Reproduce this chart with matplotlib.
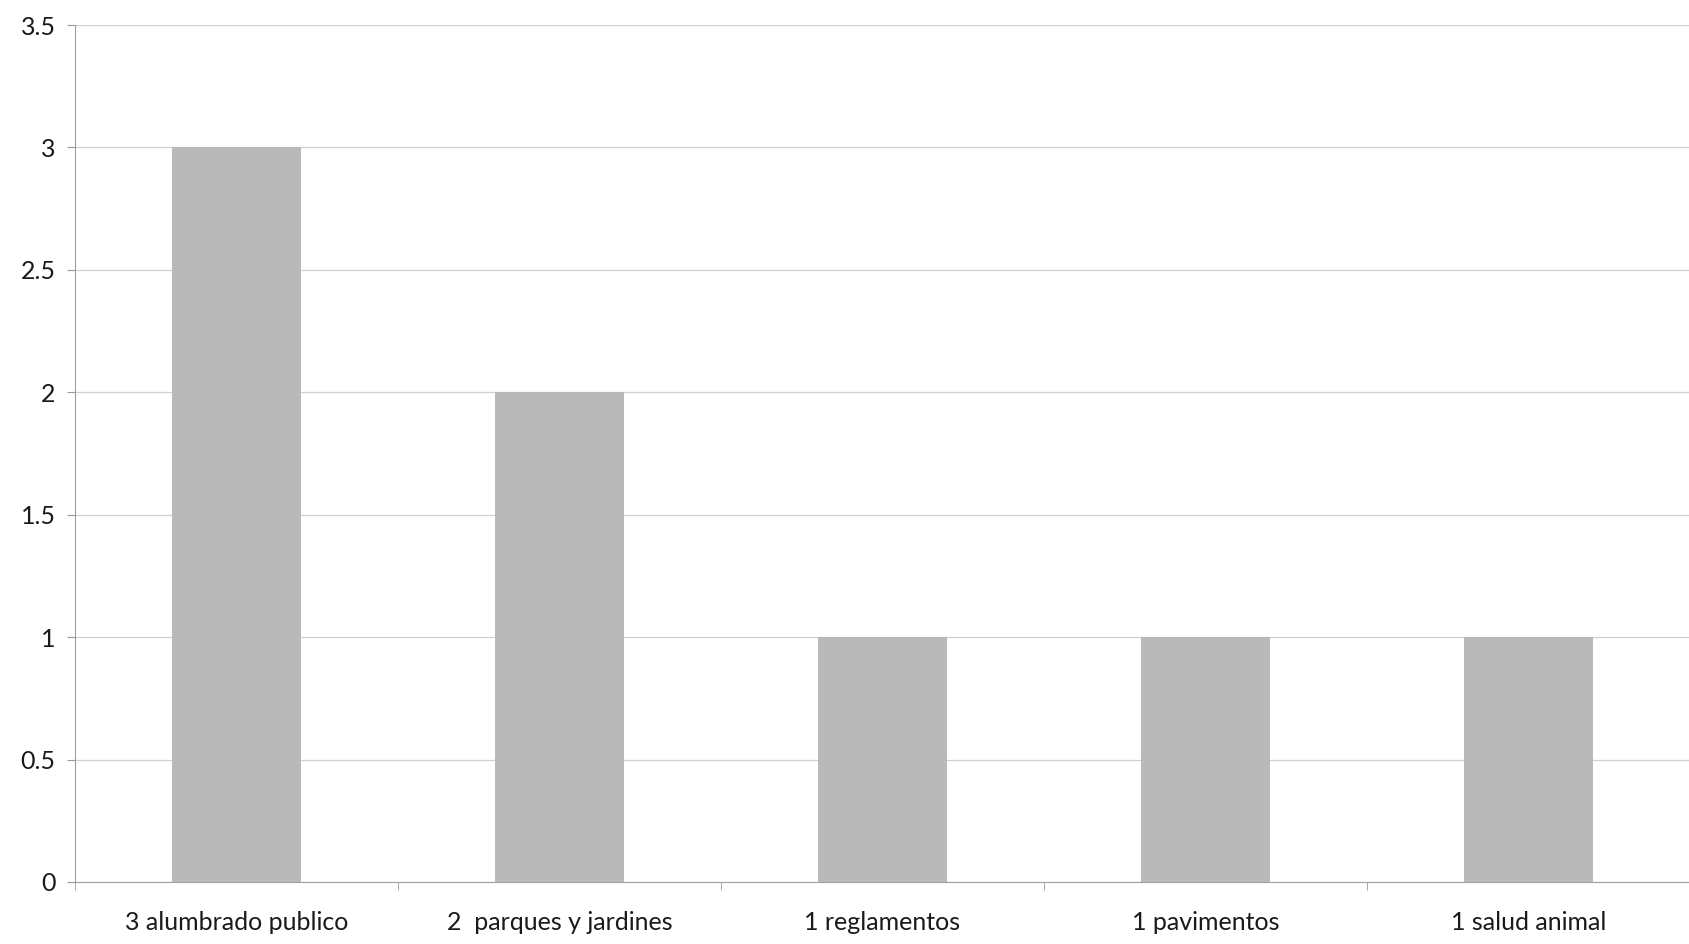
import matplotlib
matplotlib.use('Agg')
import matplotlib.pyplot as plt
import numpy as np

# data
categorias = ['3 alumbrado publico', '2  parques y jardines', '1 reglamentos',
              '1 pavimentos', '1 salud animal']
valores = [3, 2, 1, 1, 1]
y_ticks = [0, 0.5, 1, 1.5, 2, 2.5, 3, 3.5]
y_labels = ['0', '0.5', '1', '1.5', '2', '2.5', '3', '3.5']

plt.rcParams['font.family'] = ['Lato', 'DejaVu Sans']

fig = plt.figure(figsize=(16.9, 9.44), dpi=100)
ax = fig.add_axes([0.0444, 0.0657, 0.9556, 0.9078])

x = np.arange(len(categorias))
ax.bar(x, valores, width=0.4, color='#b9b9b9', zorder=2)

ax.set_xlim(-0.5, len(categorias) - 0.5)
ax.set_ylim(0, 3.5)
ax.set_yticks(y_ticks)
ax.set_yticklabels(y_labels)
ax.yaxis.grid(True, color='#d0d0d0', linewidth=0.9, zorder=0)

# category labels centred, small tick marks between categories
ax.set_xticks(x)
ax.set_xticklabels(categorias)
ax.set_xticks(np.arange(len(categorias) + 1) - 0.5, minor=True)
ax.tick_params(axis='x', which='major', length=0, pad=21, labelsize=18, colors='#1a1a1a')
ax.tick_params(axis='x', which='minor', length=6, color='#999999')
ax.tick_params(axis='y', length=6, color='#999999', pad=8, labelsize=18, labelcolor='#1a1a1a')

for side in ['top', 'right']:
    ax.spines[side].set_visible(False)
ax.spines['left'].set_color('#a0a0a0')
ax.spines['bottom'].set_color('#a0a0a0')

fig.savefig('out.png', dpi=100)
